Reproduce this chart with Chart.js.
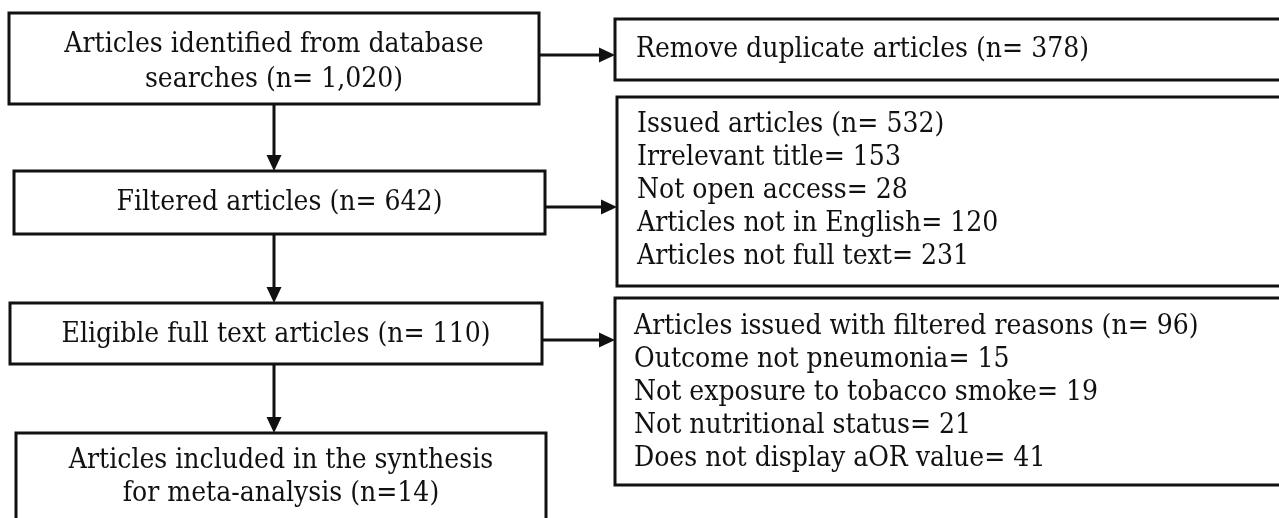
<!DOCTYPE html>
<html>
<head>
<meta charset="utf-8">
<script src="https://cdn.jsdelivr.net/npm/chart.js@4.4.1/dist/chart.umd.min.js"></script>
<style>
  html, body { margin: 0; padding: 0; background: #fff; }
  #wrap { width: 1279px; height: 518px; position: relative; }
</style>
</head>
<body>
<div id="wrap"><canvas id="flow"></canvas></div>
<script>
// flow values
const mainSteps = ["Articles identified from database searches", "Filtered articles", "Eligible full text articles", "Articles included in the synthesis for meta-analysis"];
const mainCounts = [1020, 642, 110, 14];
const duplicateLabel = "Remove duplicate articles";
const duplicateCount = 378;
const screenReasons = ["Irrelevant title", "Not open access", "Articles not in English", "Articles not full text"];
const screenCounts = [153, 28, 120, 231];
const eligReasons = ["Outcome not pneumonia", "Not exposure to tobacco smoke", "Not nutritional status", "Does not display aOR value"];
const eligCounts = [15, 19, 21, 41];

const fmt = n => n.toLocaleString("en-US");
const sum = a => a.reduce((s, v) => s + v, 0);

// text for every box
const boxText = [
  ["Articles identified from database", `searches (n= ${fmt(mainCounts[0])})`],
  [`${duplicateLabel} (n= ${duplicateCount})`],
  [`${mainSteps[1]} (n= ${mainCounts[1]})`],
  [`Issued articles (n= ${sum(screenCounts)})`, ...screenReasons.map((r, i) => `${r}= ${screenCounts[i]}`)],
  [`${mainSteps[2]} (n= ${mainCounts[2]})`],
  [`Articles issued with filtered reasons (n= ${sum(eligCounts)})`, ...eligReasons.map((r, i) => `${r}= ${eligCounts[i]}`)],
  ["Articles included in the synthesis", `for meta-analysis (n=${mainCounts[3]})`]
];

// layout in axis units (axis range = page pixels)
const layout = [
  { x0: 9,   y0: 13,  x1: 539,  y1: 104, align: "center", ly: [45, 80] },
  { x0: 615, y0: 19,  x1: 1290, y1: 80,  align: "left", tx: 636, ly: [50] },
  { x0: 14,  y0: 171, x1: 545,  y1: 234, align: "center", ly: [203] },
  { x0: 617, y0: 97,  x1: 1290, y1: 286, align: "left", tx: 637, ly: [125, 158, 191, 224, 257] },
  { x0: 10,  y0: 303, x1: 542,  y1: 364, align: "center", ly: [335] },
  { x0: 615, y0: 298, x1: 1290, y1: 485, align: "left", tx: 634, ly: [327, 360, 393, 426, 459] },
  { x0: 16,  y0: 433, x1: 546,  y1: 540, align: "center", ly: [461, 494] }
];
const arrows = [
  [539, 55, 615, 55],
  [545, 207, 617, 207],
  [542, 340, 615, 340],
  [274, 104, 274, 171],
  [274, 234, 274, 303],
  [274, 364, 274, 433]
];

const flowPlugin = {
  id: "flow",
  afterDatasetsDraw(chart) {
    const { ctx, scales: { x, y } } = chart;
    const px = v => x.getPixelForValue(v);
    const py = v => y.getPixelForValue(v);
    ctx.save();
    ctx.strokeStyle = "#111";
    ctx.fillStyle = "#111";
    ctx.lineWidth = 3;
    layout.forEach((b, i) => {
      ctx.strokeRect(px(b.x0), py(b.y0), px(b.x1) - px(b.x0), py(b.y1) - py(b.y0));
      ctx.font = "28px 'DejaVu Serif Condensed', 'DejaVu Serif', serif";
      ctx.textBaseline = "middle";
      ctx.textAlign = b.align;
      const tx = b.align === "center" ? (px(b.x0) + px(b.x1)) / 2 : px(b.tx);
      boxText[i].forEach((t, j) => ctx.fillText(t, tx, py(b.ly[j])));
    });
    arrows.forEach(([ax, ay, bx, by]) => {
      const x1 = px(ax), y1 = py(ay), x2 = px(bx), y2 = py(by);
      const ang = Math.atan2(y2 - y1, x2 - x1);
      const hl = 16, hw = 7.5;
      ctx.beginPath();
      ctx.moveTo(x1, y1);
      ctx.lineTo(x2 - hl * Math.cos(ang), y2 - hl * Math.sin(ang));
      ctx.stroke();
      ctx.beginPath();
      ctx.moveTo(x2, y2);
      ctx.lineTo(x2 - hl * Math.cos(ang) - hw * Math.sin(ang), y2 - hl * Math.sin(ang) + hw * Math.cos(ang));
      ctx.lineTo(x2 - hl * Math.cos(ang) + hw * Math.sin(ang), y2 - hl * Math.sin(ang) - hw * Math.cos(ang));
      ctx.closePath();
      ctx.fill();
    });
    ctx.restore();
  }
};

new Chart(document.getElementById("flow"), {
  type: "scatter",
  data: { datasets: [{ data: [], pointRadius: 0 }] },
  options: {
    responsive: true,
    maintainAspectRatio: false,
    animation: false,
    layout: { padding: 0 },
    plugins: { legend: { display: false }, tooltip: { enabled: false } },
    scales: {
      x: { type: "linear", min: 0, max: 1279, display: false },
      y: { type: "linear", min: 0, max: 518, reverse: true, display: false }
    }
  },
  plugins: [flowPlugin]
});
</script>
</body>
</html>
